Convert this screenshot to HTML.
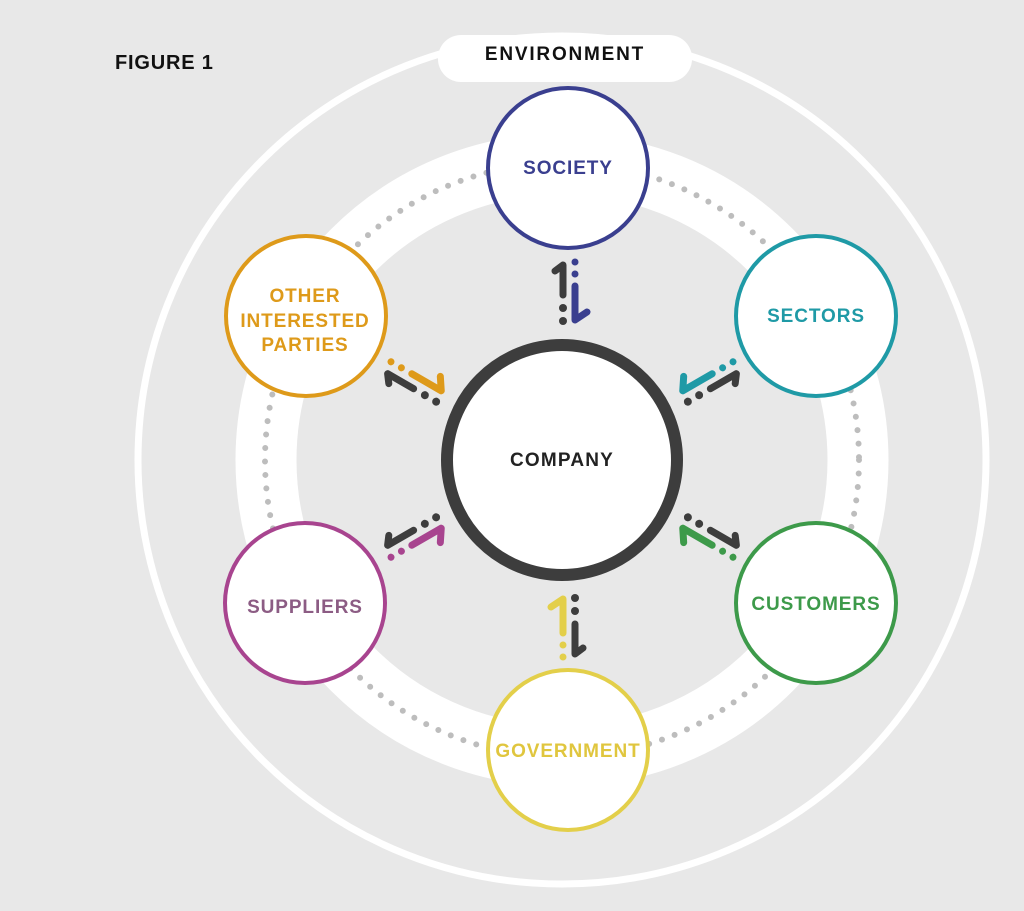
<!DOCTYPE html>
<html><head><meta charset="utf-8"><style>
html,body{margin:0;padding:0;background:#e8e8e8;}
svg{display:block;}
text{font-family:"Liberation Sans",sans-serif;font-weight:bold;}
</style></head><body>
<svg width="1024" height="911" viewBox="0 0 1024 911" xmlns="http://www.w3.org/2000/svg">
<defs>
<g id="pair" stroke-linecap="round" stroke-linejoin="round" fill="none">
  <path d="M-6,3 L-6,-27 L-14,-21" stroke="#3d3d3d" stroke-width="7"/>
  <circle cx="-6" cy="16" r="4" fill="#3d3d3d" stroke="none"/>
  <circle cx="-6" cy="29" r="4" fill="#3d3d3d" stroke="none"/>
  <circle cx="6" cy="-30" r="3.5" fill="currentColor" stroke="none"/>
  <circle cx="6" cy="-18" r="3.5" fill="currentColor" stroke="none"/>
  <path d="M6,-6 L6,28 L18,20" stroke="currentColor" stroke-width="7"/>
</g>
</defs>
<rect width="1024" height="911" fill="#e8e8e8"/>
<circle cx="562" cy="460" r="424" fill="none" stroke="#fff" stroke-width="7"/>
<circle cx="562" cy="460" r="296" fill="none" stroke="#fff" stroke-width="61"/>
<circle cx="562" cy="460" r="297" fill="none" stroke="#bdbdbd" stroke-width="6" stroke-linecap="round" stroke-dasharray="0 13.5"/>
<rect x="438" y="35" width="254" height="47" rx="23" fill="#fff"/>
<text x="565" y="60" font-size="19" text-anchor="middle" fill="#111" letter-spacing="1.8">ENVIRONMENT</text>
<text x="115" y="69" font-size="20" fill="#111" letter-spacing="0.8">FIGURE 1</text>

<circle cx="562" cy="460" r="115" fill="#fff" stroke="#3d3d3d" stroke-width="12"/>
<text x="562" y="466" font-size="19" text-anchor="middle" fill="#222" letter-spacing="1.2">COMPANY</text>

<g fill="#fff" stroke-width="4">
<circle cx="568" cy="168" r="80" stroke="#3a3f8f"/>
<circle cx="816" cy="316" r="80" stroke="#1f9aa6"/>
<circle cx="816" cy="603" r="80" stroke="#3d9a4a"/>
<circle cx="568" cy="750" r="80" stroke="#e3cf4a"/>
<circle cx="305" cy="603" r="80" stroke="#a8448f"/>
<circle cx="306" cy="316" r="80" stroke="#de9a1a"/>
</g>
<g font-size="19" text-anchor="middle" letter-spacing="0.9">
<text x="568" y="174" fill="#3a3f8f">SOCIETY</text>
<text x="816" y="322" fill="#1f9aa6">SECTORS</text>
<text x="816" y="610" fill="#3d9a4a">CUSTOMERS</text>
<text x="568" y="757" fill="#e0c63e">GOVERNMENT</text>
<text x="305" y="613" fill="#8c5c84">SUPPLIERS</text>
<text x="305" y="302" fill="#de9a1a">OTHER</text>
<text x="305" y="327" fill="#de9a1a">INTERESTED</text>
<text x="305" y="351" fill="#de9a1a">PARTIES</text>
</g>

<use href="#pair" transform="translate(569,292)" color="#3a3f8f"/>
<use href="#pair" transform="translate(710,382) scale(-1,1) rotate(300)" color="#1f9aa6"/>
<use href="#pair" transform="translate(710,537) rotate(120)" color="#3d9a4a"/>
<use href="#pair" transform="translate(569,627) rotate(180)" color="#e3cf4a"/>
<use href="#pair" transform="translate(414,537) scale(1,-1) rotate(300)" color="#a8448f"/>
<use href="#pair" transform="translate(414,382) rotate(300)" color="#de9a1a"/>
</svg>
</body></html>
